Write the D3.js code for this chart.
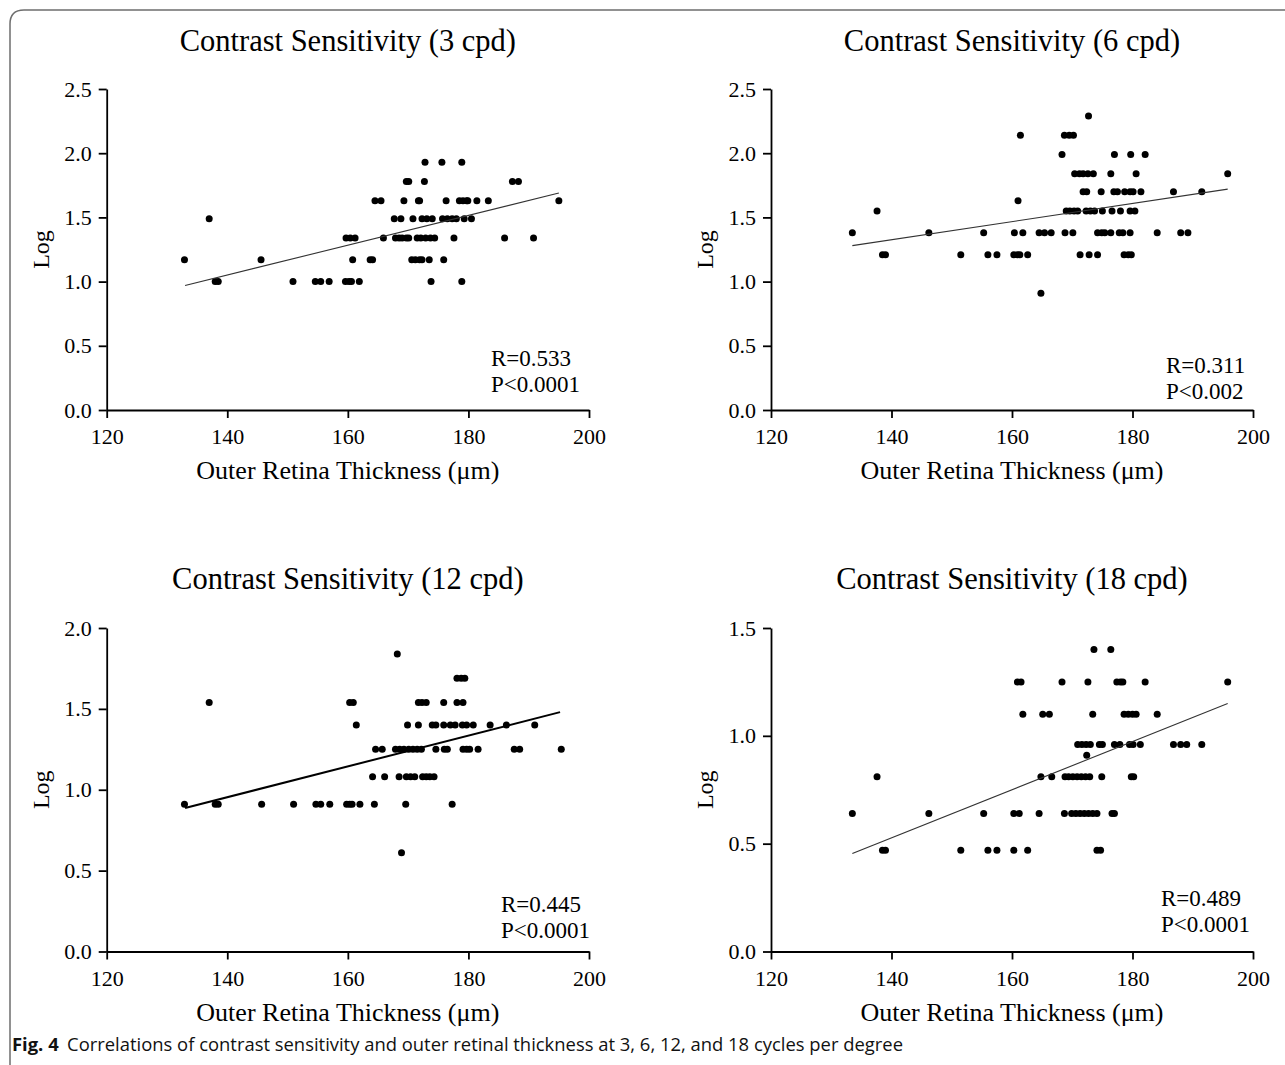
<!DOCTYPE html>
<html><head><meta charset="utf-8">
<script src="https://cdn.jsdelivr.net/npm/d3@7"></script>
<style>body{margin:0;background:#fff} svg{display:block}</style>
</head><body><svg id="c" width="1285" height="1065"></svg>
<script>
// ---------- DATA ----------
const panelTitles = ["Contrast Sensitivity (3 cpd)", "Contrast Sensitivity (6 cpd)",
                     "Contrast Sensitivity (12 cpd)", "Contrast Sensitivity (18 cpd)"];
const xTicks = [120, 140, 160, 180, 200];
const yTicks3 = [0, 0.5, 1.0, 1.5, 2.0, 2.5];
const yTicks6 = [0, 0.5, 1.0, 1.5, 2.0, 2.5];
const yTicks12 = [0, 0.5, 1.0, 1.5, 2.0];
const yTicks18 = [0, 0.5, 1.0, 1.5];
const statsR = ["R=0.533", "R=0.311", "R=0.445", "R=0.489"];
const statsP = ["P<0.0001", "P<0.002", "P<0.0001", "P<0.0001"];

// 3 cpd: log CS levels and outer retina thickness (µm) at each level
const cs3Levels = [1.93, 1.78, 1.63, 1.49, 1.34, 1.17, 1.00];
const cs3Thickness = [
  [172.8, 175.6, 178.9],
  [169.7, 170.1, 172.7, 187.3, 188.3],
  [164.5, 165.5, 169.3, 171.7, 171.9, 176.3, 178.5, 179.1, 179.7, 179.9, 181.4, 183.3, 195.0],
  [137.0, 167.7, 168.8, 170.8, 172.3, 173.1, 174.0, 175.7, 176.5, 177.3, 178.0, 179.3, 180.5],
  [159.7, 160.4, 161.2, 165.9, 167.9, 168.5, 169.0, 169.7, 170.1, 171.5, 172.1, 172.9, 173.7, 174.4, 177.6, 186.0, 190.8],
  [132.9, 145.6, 160.8, 163.7, 164.1, 170.6, 171.2, 171.9, 172.3, 173.5, 175.9],
  [138.0, 138.5, 150.9, 154.6, 155.5, 156.9, 159.6, 160.2, 160.6, 161.9, 173.8, 178.9]
];
const cs3Fit = [[133.0, 0.97], [195.0, 1.69]];

// 6 cpd
const cs6Levels = [2.29, 2.14, 1.99, 1.84, 1.70, 1.63, 1.55, 1.38, 1.21, 0.91];
const cs6Thickness = [
  [172.7],
  [161.4, 168.7, 169.5, 170.2],
  [168.3, 177.0, 179.7, 182.1],
  [170.4, 171.2, 171.8, 172.6, 173.5, 176.4, 180.6, 195.8],
  [171.8, 172.4, 174.8, 176.9, 177.5, 178.7, 179.6, 180.1, 181.4, 186.8, 191.5],
  [161.0],
  [137.6, 169.0, 169.6, 170.3, 170.9, 172.3, 173.0, 173.7, 175.0, 176.6, 178.0, 179.6, 180.4],
  [133.5, 146.2, 155.3, 160.4, 161.8, 164.5, 165.4, 166.5, 168.8, 170.1, 174.2, 174.9, 175.4, 176.4, 177.8, 178.4, 179.6, 184.1, 188.0, 189.2],
  [138.5, 139.0, 151.5, 156.0, 157.5, 160.3, 160.9, 161.3, 162.6, 171.3, 172.8, 174.2, 178.6, 179.3, 179.8],
  [164.8]
];
const cs6Fit = [[133.5, 1.28], [195.8, 1.72]];

// 12 cpd
const cs12Levels = [1.84, 1.69, 1.54, 1.40, 1.25, 1.08, 0.91, 0.61];
const cs12Thickness = [
  [168.2],
  [178.1, 178.8, 179.4],
  [137.0, 160.3, 160.9, 171.7, 172.3, 173.0, 175.9, 178.1, 179.1],
  [161.4, 169.9, 171.7, 174.0, 174.6, 175.9, 177.0, 177.8, 179.0, 179.7, 180.8, 183.6, 186.3, 191.0],
  [164.6, 165.7, 167.9, 168.6, 169.3, 170.1, 170.8, 171.5, 172.2, 174.6, 176.0, 176.5, 179.1, 179.7, 180.2, 181.6, 187.6, 188.5, 195.4],
  [164.1, 166.1, 168.5, 169.7, 170.4, 171.1, 172.4, 173.0, 173.6, 174.3],
  [132.9, 138.0, 138.5, 145.7, 151.0, 154.7, 155.5, 157.0, 159.8, 160.3, 160.7, 162.0, 164.4, 169.6, 177.3],
  [168.9]
];
const cs12Fit = [[133.0, 0.887], [195.2, 1.48]];

// 18 cpd
const cs18Levels = [1.40, 1.25, 1.10, 0.96, 0.91, 0.81, 0.64, 0.47];
const cs18Thickness = [
  [173.6, 176.4],
  [160.9, 161.5, 168.3, 172.6, 177.4, 178.0, 178.4, 182.1, 195.8],
  [161.8, 165.1, 166.2, 173.4, 178.6, 179.3, 180.0, 180.6, 184.1],
  [170.9, 171.6, 172.3, 173.0, 174.5, 175.0, 177.0, 177.9, 179.5, 180.1, 181.3, 186.8, 188.0, 189.0, 191.5],
  [172.4],
  [137.6, 164.8, 166.6, 168.8, 169.4, 170.1, 170.8, 171.5, 172.2, 172.9, 174.9, 179.8, 180.2],
  [133.5, 146.2, 155.3, 160.3, 161.2, 164.5, 168.7, 169.9, 170.6, 171.3, 172.0, 172.7, 173.4, 174.1, 176.6, 177.0],
  [138.5, 139.0, 151.5, 156.0, 157.5, 160.3, 162.6, 174.1, 174.7]
];
const cs18Fit = [[133.5, 0.454], [195.8, 1.15]];

const captionBold = "Fig. 4";
const captionText = "Correlations of contrast sensitivity and outer retinal thickness at 3, 6, 12, and 18 cycles per degree";

// ---------- LAYOUT ----------
const serif = "'Liberation Serif', 'Times New Roman', serif";
const panels = [
  {levels: cs3Levels, xs: cs3Thickness, fit: cs3Fit, yTicks: yTicks3, left: 106.7, right: 589, top: 89, bottom: 410,
   titleY: 51, statX: 491, statY: 366, fitW: 1.1, fitC: "#333"},
  {levels: cs6Levels, xs: cs6Thickness, fit: cs6Fit, yTicks: yTicks6, left: 771, right: 1253, top: 89, bottom: 410,
   titleY: 51, statX: 1166, statY: 373, fitW: 1.1, fitC: "#333"},
  {levels: cs12Levels, xs: cs12Thickness, fit: cs12Fit, yTicks: yTicks12, left: 106.7, right: 589, top: 628, bottom: 951.5,
   titleY: 589, statX: 501, statY: 912, fitW: 2, fitC: "#000"},
  {levels: cs18Levels, xs: cs18Thickness, fit: cs18Fit, yTicks: yTicks18, left: 771, right: 1253, top: 628, bottom: 951.5,
   titleY: 589, statX: 1161, statY: 906, fitW: 1.1, fitC: "#333"}
];

const svg = d3.select("#c");

// frame
svg.append("path")
  .attr("d", "M10,1070 L10,24 Q10,10 24,10 L1290,10")
  .attr("fill", "none").attr("stroke", "#6e6e6e").attr("stroke-width", 1.5);

panels.forEach((p, i) => {
  const x = d3.scaleLinear().domain([120, 200]).range([p.left, p.right]);
  const yMax = d3.max(p.yTicks);
  const y = d3.scaleLinear().domain([0, yMax]).range([p.bottom, p.top]);
  const g = svg.append("g");

  const xAxis = g.append("g").attr("transform", `translate(0,${p.bottom})`)
    .call(d3.axisBottom(x).tickValues(xTicks).tickSize(8).tickSizeOuter(0).tickFormat(d3.format("d")));
  const yAxis = g.append("g").attr("transform", `translate(${p.left},0)`)
    .call(d3.axisLeft(y).tickValues(p.yTicks).tickSize(8).tickSizeOuter(0).tickFormat(d3.format(".1f")));
  [xAxis, yAxis].forEach(a => {
    a.selectAll("path, line").attr("stroke", "#000").attr("stroke-width", 1.8);
    a.selectAll("text").attr("font-family", serif).attr("font-size", 22).attr("fill", "#000");
  });
  xAxis.selectAll("text").attr("y", 0).attr("dy", 0).attr("transform", "translate(0,34)");
  yAxis.selectAll("text").attr("x", -15);

  // points
  const pts = [];
  p.levels.forEach((lv, k) => p.xs[k].forEach(t => pts.push([t, lv])));
  g.append("g").selectAll("circle").data(pts).join("circle")
    .attr("cx", d => x(d[0])).attr("cy", d => y(d[1])).attr("r", 3.5).attr("fill", "#000");

  // fit line
  g.append("path").datum(p.fit)
    .attr("d", d3.line().x(d => x(d[0])).y(d => y(d[1])))
    .attr("stroke", p.fitC).attr("stroke-width", p.fitW).attr("fill", "none");

  // title
  const cx = (p.left + p.right) / 2;
  g.append("text").attr("x", cx).attr("y", p.titleY).attr("text-anchor", "middle")
    .attr("font-family", serif).attr("font-size", 30.5).text(panelTitles[i]);
  // x label
  g.append("text").attr("x", cx).attr("y", p.bottom + 69).attr("text-anchor", "middle")
    .attr("font-family", serif).attr("font-size", 26).text("Outer Retina Thickness (\u03bcm)");
  // y label
  const cy = (p.top + p.bottom) / 2;
  g.append("text").attr("transform", `translate(${p.left - 58},${cy}) rotate(-90)`)
    .attr("text-anchor", "middle").attr("font-family", serif).attr("font-size", 24).text("Log");
  // stats
  g.append("text").attr("x", p.statX).attr("y", p.statY)
    .attr("font-family", serif).attr("font-size", 23).text(statsR[i]);
  g.append("text").attr("x", p.statX).attr("y", p.statY + 26)
    .attr("font-family", serif).attr("font-size", 23).text(statsP[i]);
});

// caption
const cap = svg.append("text").attr("x", 12).attr("y", 1051)
  .attr("font-family", "'Open Sans', 'Noto Sans', sans-serif").attr("font-size", 17.5).attr("fill", "#111");
cap.append("tspan").attr("font-weight", "bold").text(captionBold);
cap.append("tspan").attr("dx", 8).text(captionText);
cap.attr("textLength", 891).attr("lengthAdjust", "spacingAndGlyphs");
</script>
</body></html>
